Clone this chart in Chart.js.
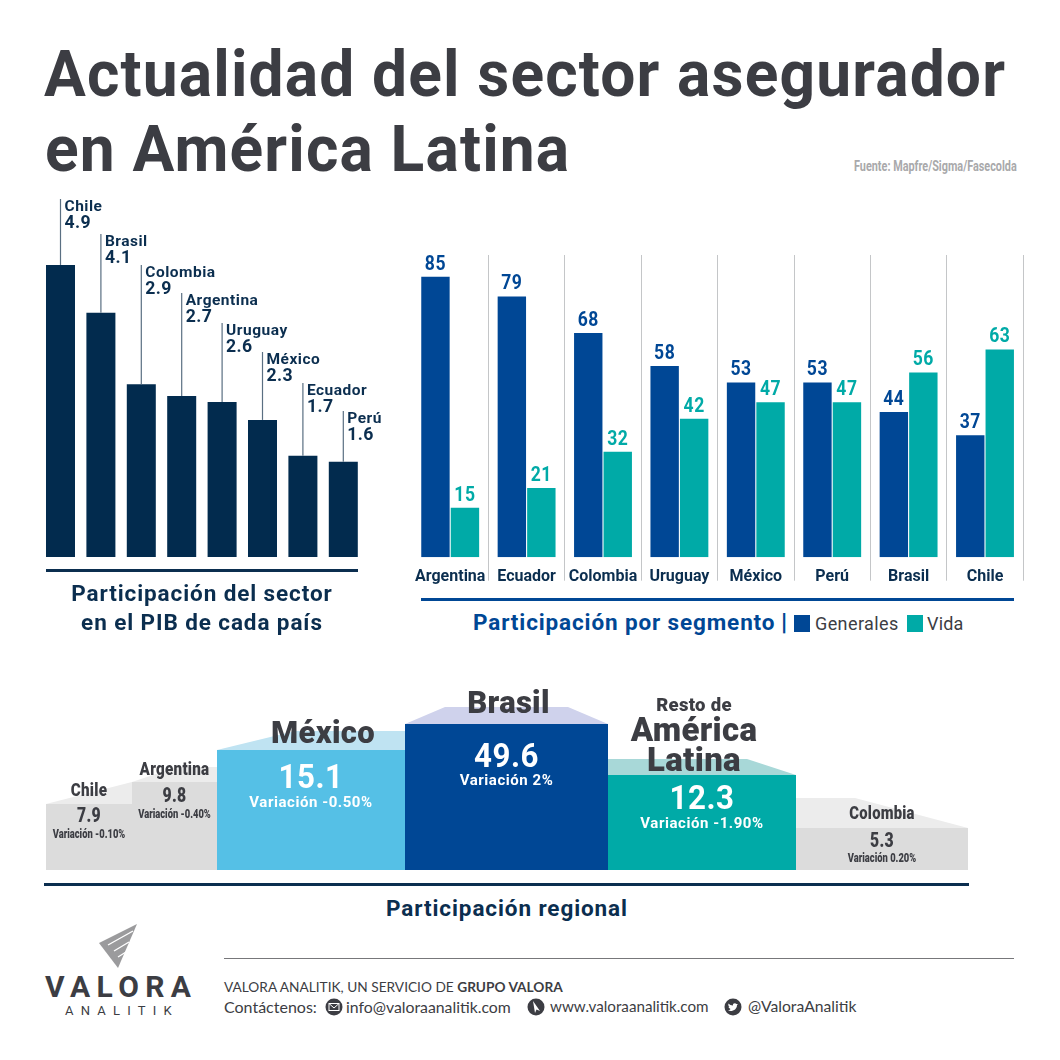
<!DOCTYPE html>
<html lang="es">
<head>
<meta charset="utf-8">
<title>Actualidad del sector asegurador en América Latina</title>
<script src="https://cdn.jsdelivr.net/npm/chart.js@4/dist/chart.umd.min.js"></script>
<style>
    html, body { margin: 0; padding: 0; background: #fff; }
    #lienzo { position: relative; width: 1060px; height: 1060px; overflow: hidden; font-family: Roboto, sans-serif; }
    canvas { position: absolute; }
    .t { position: absolute; white-space: nowrap; line-height: 1; }
    .regla { position: absolute; }
    .pie { font-family: Lato, sans-serif; color: #3c3d43; }
    .titulo { font-size: 65px; font-weight: 700; color: #3c3d43; letter-spacing: 1.2px; transform: scaleX(0.958); transform-origin: left center; }
    .seccion { font-size: 22.5px; font-weight: 700; color: #0b2e4f; letter-spacing: .9px; text-align: center; }
</style>
</head>
<body>
<div id="lienzo">
    <div class="t titulo" style="left:44px;top:42px;">Actualidad del sector asegurador</div>
    <div class="t titulo" style="left:45px;top:117px;">en América Latina</div>
    <div class="t" style="left:854px;top:159px;font-size:14px;font-weight:700;color:#a9a9ab;transform:scaleX(0.775);transform-origin:left center;">Fuente: Mapfre/Sigma/Fasecolda</div>

    <canvas id="pibChart" width="410" height="380" style="left:0;top:190px"></canvas>
    <div class="regla" style="left:46px;top:569px;width:312px;height:3px;background:#0b2e4f"></div>
    <div class="t seccion" style="left:0;width:404px;top:582px;">Participación del sector</div>
    <div class="t seccion" style="left:0;width:404px;top:611px;">en el PIB de cada país</div>

    <canvas id="segmentoChart" width="650" height="345" style="left:410px;top:245px"></canvas>
    <div class="regla" style="left:421px;top:598px;width:593px;height:3px;background:#004795"></div>
    <div class="t" style="left:473px;top:611px;font-size:22.5px;font-weight:700;color:#004795;letter-spacing:.87px;">Participación por segmento</div>
    <div class="t" style="left:781px;top:610px;font-size:24px;font-weight:900;color:#004795;">|</div>
    <div class="regla" style="left:794px;top:615px;width:16px;height:17px;background:#004795"></div>
    <div class="t" style="left:815px;top:615px;font-size:18px;color:#3c3d43;letter-spacing:.4px;">Generales</div>
    <div class="regla" style="left:907px;top:615px;width:16px;height:17px;background:#00aaa7"></div>
    <div class="t" style="left:927px;top:615px;font-size:18px;color:#3c3d43;letter-spacing:.2px;">Vida</div>

    <canvas id="regionChart" width="1060" height="190" style="left:0;top:680px"></canvas>
    <div class="regla" style="left:44px;top:883px;width:925px;height:3px;background:#0b2e4f"></div>
    <div class="t seccion" style="left:0;width:1014px;top:897px;">Participación regional</div>

    <svg style="position:absolute;left:90px;top:920px" width="60" height="52" viewBox="0 0 60 52">
        <polygon points="47,4 9,23 28,48" fill="#9b9b9d"/>
        <path d="M18,25 L43,11 M24,31 L39,22 M28,37 L36,32" stroke="#fff" stroke-width="1.4" fill="none"/>
    </svg>
    <div class="t" style="left:45px;top:972px;font-size:30px;font-weight:700;color:#3c3d43;letter-spacing:6.4px;">VALORA</div>
    <div class="t" style="left:65px;top:1004px;font-size:13px;color:#3c3d43;letter-spacing:7.2px;">ANALITIK</div>

    <div class="regla" style="left:224px;top:958px;width:790px;height:1px;background:#77777a"></div>
    <div class="t pie" style="left:224px;top:980px;font-size:13.7px;">VALORA ANALITIK, UN SERVICIO DE <b>GRUPO VALORA</b></div>
    <div class="t pie" style="left:224px;top:999px;font-size:16px;">Contáctenos:</div>
    <svg style="position:absolute;left:325px;top:998px" width="18" height="18" viewBox="0 0 18 18"><circle cx="9" cy="9" r="8.5" fill="#3c3d43"/><rect x="4" y="5.5" width="10" height="7" fill="none" stroke="#fff"/><path d="M4,5.5 L9,10 L14,5.5" fill="none" stroke="#fff"/></svg>
    <div class="t pie" style="left:346px;top:999px;font-size:15.8px;">info@valoraanalitik.com</div>
    <svg style="position:absolute;left:527px;top:998px" width="18" height="18" viewBox="0 0 18 18"><circle cx="9" cy="9" r="8.5" fill="#3c3d43"/><path d="M6,3 L13,13 L9.5,11.5 L8,15 Z" fill="#fff"/></svg>
    <div class="t pie" style="left:550px;top:999px;font-size:15.2px;">www.valoraanalitik.com</div>
    <svg style="position:absolute;left:724px;top:998px" width="18" height="18" viewBox="0 0 18 18"><circle cx="9" cy="9" r="8.5" fill="#3c3d43"/><path d="M4,12.5 C8,14 13,12 13,7 L14,6 L12.5,6 C11,4.5 8.5,5.5 9,7.5 C7,7.5 5.5,6.5 4.5,5.5 C4,7 4.5,8 5.5,9 L4.5,8.8 C4.7,10 5.5,10.5 6.5,11 C6,11.8 5,12.3 4,12.5 Z" fill="#fff"/></svg>
    <div class="t pie" style="left:748px;top:999px;font-size:15.7px;">@ValoraAnalitik</div>
</div>

<script>
// Participacion en el PIB
const paisesPib = ['Chile', 'Brasil', 'Colombia', 'Argentina', 'Uruguay', 'México', 'Ecuador', 'Perú'];
const valoresPib = [4.9, 4.1, 2.9, 2.7, 2.6, 2.3, 1.7, 1.6];

// Participacion por segmento
const paisesSegmento = ['Argentina', 'Ecuador', 'Colombia', 'Uruguay', 'México', 'Perú', 'Brasil', 'Chile'];
const generales = [85, 79, 68, 58, 53, 53, 44, 37];
const vida = [15, 21, 32, 42, 47, 47, 56, 63];

// Participacion regional. Los bloques no son proporcionales al valor,
// por eso ancho y alto se leen aparte de la figura
const regiones = ['Chile', 'Argentina', 'México', 'Brasil', 'Resto de América Latina', 'Colombia'];
const participacion = [7.9, 9.8, 15.1, 49.6, 12.3, 5.3];
const variacion = ['-0.10%', '-0.40%', '-0.50%', '2%', '-1.90%', '0.20%'];
const anchoBloque = [86, 85, 188, 203, 188, 172];
const altoBloque = [66, 88, 120, 146, 95, 42];
const fondoBloque = [22, 15, 19, 17, 16, 30];
const sesgoIzq = [86, 45, 78, 40, 0, 0];
const sesgoDer = [0, 0, 0, 40, 49, 113];

const AZUL_NOCHE = '#022b4e';
const TEXTO_NOCHE = '#0b2e4f';
const AZUL = '#004795';
const VERDE = '#00aaa7';
const GRIS_TEXTO = '#3c3d43';

function escribir(ctx, texto, x, y, font, color, espacio, align, escala) {
    ctx.save();
    ctx.font = font;
    ctx.fillStyle = color;
    ctx.letterSpacing = (espacio || 0) + 'px';
    ctx.textAlign = align || 'center';
    ctx.textBaseline = 'middle';
    ctx.translate(x, y);
    ctx.scale(escala || 1, 1);
    ctx.fillText(texto, 0, 0);
    ctx.restore();
}

// --- PIB ---
const PX_POR_PUNTO = 59.6;
const topeVarilla = [199, 234, 265, 293, 323, 352, 383, 411]; // alto de cada varilla en la pagina

const varillasPib = {
    id: 'varillasPib',
    afterDatasetsDraw(chart) {
        const ctx = chart.ctx;
        const top = chart.canvas.offsetTop;
        chart.getDatasetMeta(0).data.forEach(function (bar, i) {
            const yTope = topeVarilla[i] - top;
            ctx.save();
            ctx.strokeStyle = '#5a6f82';
            ctx.lineWidth = 1.2;
            ctx.beginPath();
            ctx.moveTo(bar.x, bar.y);
            ctx.lineTo(bar.x, yTope);
            ctx.stroke();
            ctx.restore();
            escribir(ctx, paisesPib[i], bar.x + 4, yTope + 8, '700 15.5px Roboto', TEXTO_NOCHE, 0.5, 'left');
            escribir(ctx, valoresPib[i].toFixed(1), bar.x + 4, yTope + 24, '700 19px Roboto', TEXTO_NOCHE, 0.4, 'left', 0.93);
        });
    }
};

new Chart(document.getElementById('pibChart'), {
    type: 'bar',
    data: {
        labels: paisesPib,
        datasets: [{ data: valoresPib, backgroundColor: AZUL_NOCHE, barPercentage: 0.718, categoryPercentage: 1 }]
    },
    options: {
        responsive: false,
        animation: false,
        layout: { padding: { left: 40.3, right: 46.5, top: 0, bottom: 13 } },
        plugins: { legend: { display: false }, tooltip: { enabled: false } },
        scales: {
            x: { display: false },
            y: { display: false, min: 0, max: 367 / PX_POR_PUNTO }
        }
    },
    plugins: [varillasPib]
});

// --- Segmentos ---
const valoresSobreBarra = {
    id: 'valoresSobreBarra',
    afterDatasetsDraw(chart) {
        chart.data.datasets.forEach(function (ds, d) {
            chart.getDatasetMeta(d).data.forEach(function (bar, i) {
                escribir(chart.ctx, String(ds.data[i]), bar.x, bar.y - 12, '700 19.5px Roboto', ds.backgroundColor, 0.6, 'center', 0.9);
            });
        });
    }
};

new Chart(document.getElementById('segmentoChart'), {
    type: 'bar',
    data: {
        labels: paisesSegmento,
        datasets: [
            { label: 'Generales', data: generales, backgroundColor: AZUL, barPercentage: 0.963, categoryPercentage: 0.772 },
            { label: 'Vida', data: vida, backgroundColor: VERDE, barPercentage: 0.963, categoryPercentage: 0.772 }
        ]
    },
    options: {
        responsive: false,
        animation: false,
        layout: { padding: { left: 2, right: 36.8, top: 10, bottom: 0 } },
        plugins: { legend: { display: false }, tooltip: { enabled: false } },
        scales: {
            x: {
                afterFit(scale) { scale.height = 32.7; },
                border: { display: false },
                grid: {
                    offset: true,
                    tickLength: 23.4,
                    lineWidth: 1,
                    color: function (c) { return c.index === 0 ? 'rgba(0,0,0,0)' : '#c4c6c8'; },
                    tickColor: function (c) { return c.index === 0 ? 'rgba(0,0,0,0)' : '#c4c6c8'; }
                },
                ticks: {
                    color: TEXTO_NOCHE,
                    padding: -13,
                    maxRotation: 0,
                    autoSkip: false,
                    font: { family: 'Roboto', size: 16, weight: '700' }
                }
            },
            y: { display: false, min: 0, max: 302.3 / 3.3 }
        }
    },
    plugins: [valoresSobreBarra]
});

// --- Regional ---
const TOTAL_ANCHO = anchoBloque.reduce(function (a, b) { return a + b; }, 0);
const inicioBloque = anchoBloque.map(function (w, i) {
    return anchoBloque.slice(0, i).reduce(function (a, b) { return a + b; }, 0);
});
const coloresBloque = ['#dcdcdc', '#dcdcdc', '#55c0e6', AZUL, VERDE, '#dcdcdc'];
const coloresCara = ['#ececec', '#ececec', '#bfe3f2', '#cfd2ec', '#a8d8d8', '#ececec'];

// desplazamientos de texto respecto al borde superior del bloque
const estiloRegion = [
    { grande: false, dxNombre: 0, lineas: ['Chile'], fuentes: ['900 19px Roboto'], escalas: [0.8], yNombre: [-13], yValor: 13, yVar: 31 },
    { grande: false, dxNombre: 0, lineas: ['Argentina'], fuentes: ['900 19px Roboto'], escalas: [0.8], yNombre: [-12], yValor: 15, yVar: 33 },
    { grande: true, dxNombre: 12, lineas: ['México'], fuentes: ['900 31px Roboto'], escalas: [1], yNombre: [-15], yValor: 29, yVar: 53 },
    { grande: true, dxNombre: 2, lineas: ['Brasil'], fuentes: ['900 31px Roboto'], escalas: [1], yNombre: [-19], yValor: 34, yVar: 57 },
    { grande: true, dxNombre: -8, lineas: ['Resto de', 'América', 'Latina'], fuentes: ['900 18.5px Roboto', '900 33px Roboto', '900 33px Roboto'], escalas: [1, 1, 1], yNombre: [-69, -42, -12], yValor: 25, yVar: 49 },
    { grande: false, dxNombre: 0, lineas: ['Colombia'], fuentes: ['900 19px Roboto'], escalas: [0.78], yNombre: [-14], yValor: 14, yVar: 31 }
];

const datasetsRegion = [];
regiones.forEach(function (region, i) {
    const x0 = inicioBloque[i];
    const x1 = x0 + anchoBloque[i];
    datasetsRegion.push({
        label: region,
        order: 1,
        data: [{ x: x0, y: altoBloque[i] }, { x: x1, y: altoBloque[i] }],
        backgroundColor: coloresBloque[i],
        fill: 'origin',
        borderWidth: 0,
        pointRadius: 0
    });
});
regiones.forEach(function (region, i) {
    const x0 = inicioBloque[i];
    const x1 = x0 + anchoBloque[i];
    const h = altoBloque[i];
    datasetsRegion.push({
        label: region + ' cara',
        order: 2,
        data: [
            { x: x0, y: h },
            { x: x0 + sesgoIzq[i], y: h + fondoBloque[i] },
            { x: x1 - sesgoDer[i], y: h + fondoBloque[i] },
            { x: x1, y: h }
        ],
        backgroundColor: coloresCara[i],
        fill: 'origin',
        borderWidth: 0,
        pointRadius: 0
    });
});

const textosRegion = {
    id: 'textosRegion',
    afterDatasetsDraw(chart) {
        const ctx = chart.ctx;
        const sx = chart.scales.x;
        const sy = chart.scales.y;
        regiones.forEach(function (region, i) {
            const e = estiloRegion[i];
            const cx = sx.getPixelForValue(inicioBloque[i] + anchoBloque[i] / 2);
            const top = sy.getPixelForValue(altoBloque[i]);
            e.lineas.forEach(function (linea, n) {
                escribir(ctx, linea, cx + e.dxNombre, top + e.yNombre[n], e.fuentes[n], GRIS_TEXTO, 0.3, 'center', e.escalas[n]);
            });
            const valor = participacion[i].toFixed(1);
            const texto = 'Variación ' + variacion[i];
            if (e.grande) {
                escribir(ctx, valor, cx, top + e.yValor, '700 34px Roboto', '#fff', 0.6, 'center', 0.92);
                escribir(ctx, texto, cx, top + e.yVar, '700 15px Roboto', '#fff', 0.55);
            } else {
                escribir(ctx, valor, cx, top + e.yValor, '900 21px Roboto', GRIS_TEXTO, 0.4, 'center', 0.75);
                escribir(ctx, texto, cx, top + e.yVar, '900 12px Roboto', GRIS_TEXTO, 0, 'center', 0.78);
            }
        });
    }
};

new Chart(document.getElementById('regionChart'), {
    type: 'line',
    data: { datasets: datasetsRegion },
    options: {
        responsive: false,
        animation: false,
        layout: { padding: { left: 46, right: 92, top: 0, bottom: 0 } },
        plugins: { legend: { display: false }, tooltip: { enabled: false } },
        scales: {
            x: { type: 'linear', display: false, min: 0, max: TOTAL_ANCHO },
            y: { display: false, min: 0, max: 190 }
        }
    },
    plugins: [textosRegion]
});
</script>
</body>
</html>
